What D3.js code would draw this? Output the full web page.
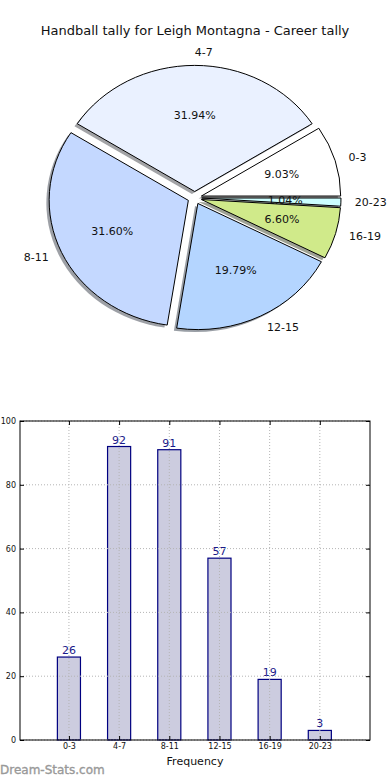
<!DOCTYPE html>
<html>
<head>
<meta charset="utf-8">
<script src="https://cdn.jsdelivr.net/npm/d3@7"></script>
<style>
  html, body { margin: 0; padding: 0; background: #fff; }
  svg { display: block; }
  text { font-family: "DejaVu Sans", sans-serif; }
</style>
</head>
<body>
<svg id="chart" width="390" height="780"></svg>
<script>
const title = "Handball tally for Leigh Montagna - Career tally";
const categories = ["0-3", "4-7", "8-11", "12-15", "16-19", "20-23"];
const values = [26, 92, 91, 57, 19, 3];
const sliceColors = ["#ffffff", "#eaf1ff", "#c4d8ff", "#b4d5ff", "#d0ea8a", "#ccffff"];
const yTicks = [0, 20, 40, 60, 80, 100];
const xLabel = "Frequency";
const watermark = "Dream-Stats.com";

const svg = d3.select("#chart");

// Title
svg.append("text").attr("x", 195).attr("y", 30)
  .attr("text-anchor", "middle").attr("dominant-baseline", "central")
  .attr("font-size", 13).attr("fill", "#111").text(title);

// ---------- Pie (matplotlib style: start at 3 o'clock, counter-clockwise, elliptical) ----------
const cx = 194.7, cy = 197.8, Rx = 139.3, Ry = 126.2;
const explode = 0.05;
const total = d3.sum(values);
const fracScale = d3.scaleLinear().domain([0, total]).range([0, 2 * Math.PI]);
let acc = 0;
const slices = values.map((v, i) => {
  const t1 = fracScale(acc), t2 = fracScale(acc + v);
  acc += v;
  const tm = (t1 + t2) / 2;
  return { i, v, t1, t2, tm,
    ox: explode * Math.cos(tm), oy: explode * Math.sin(tm) };
});
const arc = d3.arc().innerRadius(0).outerRadius(1);
function arcPath(s) {
  return arc({ startAngle: Math.PI / 2 - s.t2, endAngle: Math.PI / 2 - s.t1 });
}
const pie = svg.append("g");
pie.selectAll("path.shadow").data(slices).enter().append("path")
  .attr("class", "shadow")
  .attr("transform", s => `translate(${cx + (s.ox - 0.02) * Rx},${cy - (s.oy - 0.02) * Ry}) scale(${Rx},${Ry})`)
  .attr("d", arcPath)
  .attr("fill", s => { const c = d3.rgb(sliceColors[s.i]); return d3.rgb(c.r * 0.3, c.g * 0.3, c.b * 0.3); })
  .attr("fill-opacity", 0.5);
pie.selectAll("path.wedge").data(slices).enter().append("path")
  .attr("class", "wedge")
  .attr("transform", s => `translate(${cx + s.ox * Rx},${cy - s.oy * Ry}) scale(${Rx},${Ry})`)
  .attr("d", arcPath)
  .attr("fill", s => sliceColors[s.i])
  .attr("stroke", "#000").attr("stroke-width", 1)
  .attr("vector-effect", "non-scaling-stroke")
  .attr("stroke-linejoin", "round");
pie.selectAll("text.lab").data(slices).enter().append("text")
  .attr("x", s => cx + (s.ox + 1.1 * Math.cos(s.tm)) * Rx)
  .attr("y", s => cy - (s.oy + 1.1 * Math.sin(s.tm)) * Ry)
  .attr("text-anchor", s => Math.cos(s.tm) > 0 ? "start" : "end")
  .attr("dominant-baseline", "central")
  .attr("font-size", 11).attr("fill", "#111")
  .text(s => categories[s.i]);
pie.selectAll("text.pct").data(slices).enter().append("text")
  .attr("x", s => cx + (s.ox + 0.6 * Math.cos(s.tm)) * Rx)
  .attr("y", s => cy - (s.oy + 0.6 * Math.sin(s.tm)) * Ry)
  .attr("text-anchor", "middle")
  .attr("dominant-baseline", "central")
  .attr("font-size", 11).attr("fill", "#111")
  .text(s => (100 * s.v / total).toFixed(2) + "%");

// ---------- Bar chart ----------
const L = 20, R = 370, T = 421, B = 740;
const x = d3.scaleLinear().domain([-0.975, 6]).range([L, R]);
const y = d3.scaleLinear().domain([0, 100]).range([B, T]);
const barW = 0.46;
const bars = svg.append("g");

bars.selectAll("rect").data(values).enter().append("rect")
  .attr("x", (d, i) => x(i - barW / 2))
  .attr("width", (d, i) => x(i + barW / 2) - x(i - barW / 2))
  .attr("y", d => y(d))
  .attr("height", d => y(0) - y(d))
  .attr("fill", "#ccccdf")
  .attr("stroke", "#000080").attr("stroke-width", 1.2);

const grid = svg.append("g").attr("stroke", "#b4b4b4").attr("stroke-width", 1)
  .attr("stroke-dasharray", "1,2");
grid.selectAll("line.h").data(yTicks).enter().append("line")
  .attr("x1", L).attr("x2", R).attr("y1", d => y(d)).attr("y2", d => y(d));
grid.selectAll("line.v").data(categories).enter().append("line")
  .attr("x1", (d, i) => x(i)).attr("x2", (d, i) => x(i)).attr("y1", T).attr("y2", B);

bars.selectAll("text.val").data(values).enter().append("text")
  .attr("x", (d, i) => x(i)).attr("y", d => y(d) - 3)
  .attr("text-anchor", "middle")
  .attr("font-size", 11).attr("fill", "#1a1a8a")
  .text(d => d);

svg.append("rect").attr("x", L).attr("y", T).attr("width", R - L).attr("height", B - T)
  .attr("fill", "none").attr("stroke", "#000").attr("stroke-width", 1);

const axL = svg.append("g").attr("transform", `translate(${L},0)`)
  .call(d3.axisLeft(y).tickValues(yTicks).tickSize(-4).tickPadding(8));
const axR = svg.append("g").attr("transform", `translate(${R},0)`)
  .call(d3.axisRight(y).tickValues(yTicks).tickSize(-4).tickFormat(""));
const axB = svg.append("g").attr("transform", `translate(0,${B})`)
  .call(d3.axisBottom(x).tickValues(d3.range(categories.length)).tickSize(-4).tickPadding(3)
    .tickFormat(i => categories[i]));
const axT = svg.append("g").attr("transform", `translate(0,${T})`)
  .call(d3.axisTop(x).tickValues(d3.range(categories.length)).tickSize(-4).tickFormat(""));
[axL, axR, axB, axT].forEach(a => {
  a.select(".domain").remove();
  a.selectAll("line").attr("stroke", "#000");
  a.selectAll("text").attr("font-family", "DejaVu Sans, sans-serif").attr("font-size", 8).attr("fill", "#111");
});
axL.selectAll("text").attr("dx", 4);

svg.append("text").attr("x", (L + R) / 2).attr("y", 761)
  .attr("text-anchor", "middle").attr("dominant-baseline", "central")
  .attr("font-size", 11).attr("fill", "#111").text(xLabel);

svg.append("text").attr("x", 0).attr("y", 770)
  .attr("dominant-baseline", "central")
  .attr("font-size", 12).attr("fill", "#999")
  .attr("stroke", "#999").attr("stroke-width", 0.35)
  .text(watermark);
</script>
</body>
</html>
